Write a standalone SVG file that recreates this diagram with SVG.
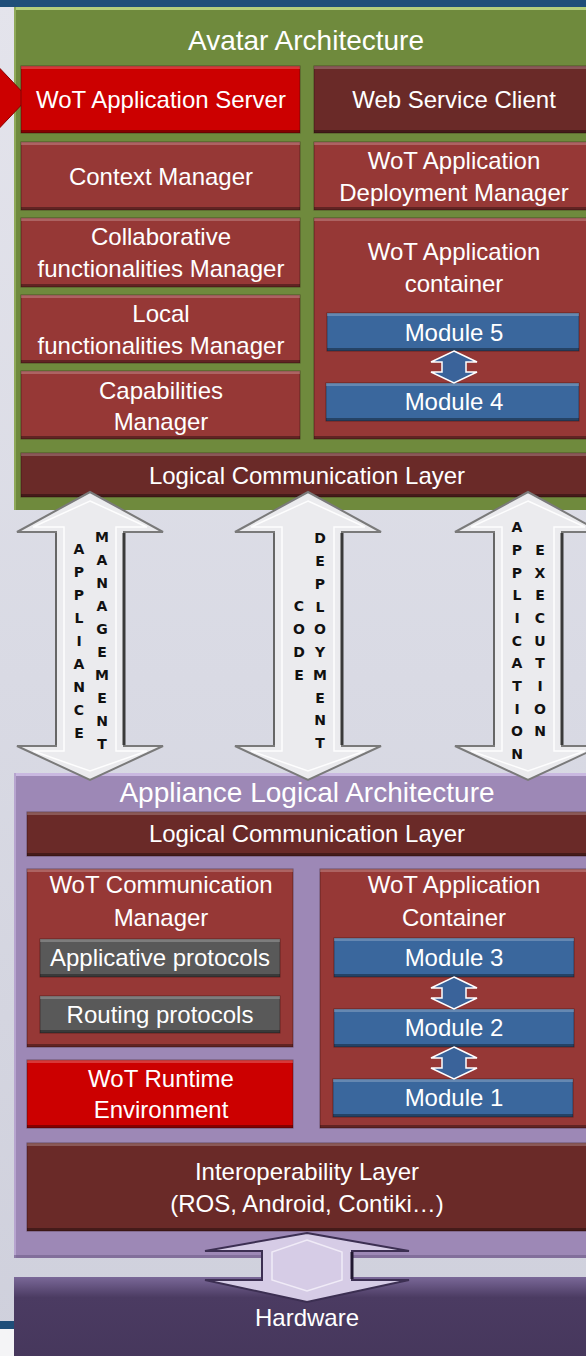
<svg xmlns="http://www.w3.org/2000/svg" xmlns:xlink="http://www.w3.org/1999/xlink" width="586" height="1356" viewBox="0 0 586 1356">
<defs>
<linearGradient id="bg" x1="0" y1="0" x2="0" y2="1">
<stop offset="0" stop-color="#e4e4ec"/><stop offset="0.5" stop-color="#d9dae4"/><stop offset="1" stop-color="#cfd0dc"/>
</linearGradient>
<linearGradient id="hw" x1="0" y1="0" x2="0" y2="1">
<stop offset="0" stop-color="#7a6898"/><stop offset="0.25" stop-color="#4b3b62"/><stop offset="1" stop-color="#46375c"/>
</linearGradient>
<polygon id="bigArrow" points="0,492 73,532 34,532 34,746 73,746 0,780 -73,746 -34,746 -34,532 -73,532"/>
<polygon id="bigArrowIn" points="0,501 57,527 26,527 26,751 57,751 0,771 -57,751 -26,751 -26,527 -57,527"/>
<polygon id="modArrow" points="0,0 23,11 12,11 12,21 23,21 0,32 -23,21 -12,21 -12,11 -23,11"/>
</defs>
<style>
.t{font-family:"Liberation Sans",Arial,sans-serif;font-size:24px;fill:#fff;text-anchor:middle}
.tt{font-size:28px}
.v{font-family:"DejaVu Sans","Liberation Sans",sans-serif;font-weight:bold;font-size:14px;fill:#111;text-anchor:middle}
.red{fill:#cc0000}
.mr{fill:#963836}
.dm{fill:#6a2a28}
.blu{fill:#3a679d}
.gry{fill:#595959}
.box{stroke:#2a0a0a;stroke-opacity:.45;stroke-width:1}
.hl{fill:#fff;opacity:.22}
.sh{fill:#000;opacity:.35}
.ba{fill:#ebebee;stroke:#7a7a7a;stroke-width:2}
.bai{fill:none;stroke:#fff;stroke-width:1.5;opacity:.9}
.se{stroke:#3a3a3a;stroke-width:3}
.ma{fill:#3a639a;stroke:#fff;stroke-width:1.5}
</style>
<rect x="0" y="0" width="586" height="1356" fill="url(#bg)"/>
<rect x="0" y="0" width="586" height="7" fill="#1f4e79"/>
<rect x="0" y="1321" width="14" height="8" fill="#1f4e79"/>
<rect x="0" y="1329" width="14" height="27" fill="#f4f4f6"/>

<g id="avatar-architecture">
<rect x="14" y="7" width="590" height="503" fill="#6f8a3d"/>
<rect x="14" y="7" width="590" height="3" fill="#b3cd7c"/>
<rect x="14" y="7" width="2" height="503" fill="#8fa95a"/>
<text class="t tt" x="306" y="50">Avatar Architecture</text>
</g>

<g id="source-arrow">
<polygon points="-10,58 28,98 -10,138" fill="#cc0000" stroke="#8a0000" stroke-width="1"/>
</g>

<g id="wot-application-server">
<rect class="red box" x="21" y="66" width="279" height="67"/>
<rect class="hl" x="21" y="66" width="279" height="3"/><rect class="sh" x="21" y="130" width="279" height="3"/>
<text class="t" x="161" y="108">WoT Application Server</text>
</g>
<g id="web-service-client">
<rect class="dm box" x="314" y="66" width="280" height="67"/>
<rect class="hl" x="314" y="66" width="280" height="3"/><rect class="sh" x="314" y="130" width="280" height="3"/>
<text class="t" x="454" y="108">Web Service Client</text>
</g>
<g id="context-manager">
<rect class="mr box" x="21" y="142" width="279" height="68"/>
<rect class="hl" x="21" y="142" width="279" height="3"/><rect class="sh" x="21" y="207" width="279" height="3"/>
<text class="t" x="161" y="185">Context Manager</text>
</g>
<g id="deployment-manager">
<rect class="mr box" x="314" y="142" width="280" height="68"/>
<rect class="hl" x="314" y="142" width="280" height="3"/><rect class="sh" x="314" y="207" width="280" height="3"/>
<text class="t" x="454" y="169">WoT Application</text>
<text class="t" x="454" y="201">Deployment Manager</text>
</g>
<g id="collaborative-manager">
<rect class="mr box" x="21" y="218" width="279" height="69"/>
<rect class="hl" x="21" y="218" width="279" height="3"/><rect class="sh" x="21" y="284" width="279" height="3"/>
<text class="t" x="161" y="245">Collaborative</text>
<text class="t" x="161" y="277">functionalities Manager</text>
</g>
<g id="local-manager">
<rect class="mr box" x="21" y="295" width="279" height="68"/>
<rect class="hl" x="21" y="295" width="279" height="3"/><rect class="sh" x="21" y="360" width="279" height="3"/>
<text class="t" x="161" y="322">Local</text>
<text class="t" x="161" y="354">functionalities Manager</text>
</g>
<g id="capabilities-manager">
<rect class="mr box" x="21" y="371" width="279" height="68"/>
<rect class="hl" x="21" y="371" width="279" height="3"/><rect class="sh" x="21" y="436" width="279" height="3"/>
<text class="t" x="161" y="399">Capabilities</text>
<text class="t" x="161" y="430">Manager</text>
</g>
<g id="wot-application-container-avatar">
<rect class="mr box" x="314" y="218" width="280" height="221"/>
<rect class="hl" x="314" y="218" width="280" height="3"/><rect class="sh" x="314" y="436" width="280" height="3"/>
<text class="t" x="454" y="260">WoT Application</text>
<text class="t" x="454" y="292">container</text>
</g>
<g id="module-5">
<rect class="blu box" x="327" y="313" width="252" height="38"/>
<rect class="hl" x="327" y="313" width="252" height="3"/><rect class="sh" x="327" y="348" width="252" height="3"/>
<text class="t" x="454" y="341">Module 5</text>
</g>
<g id="module-4">
<rect class="blu box" x="326" y="383" width="253" height="38"/>
<rect class="hl" x="326" y="383" width="253" height="3"/><rect class="sh" x="326" y="418" width="253" height="3"/>
<text class="t" x="454" y="410">Module 4</text>
</g>
<g id="logical-communication-layer-avatar">
<rect class="dm box" x="21" y="453" width="573" height="44"/>
<rect class="hl" x="21" y="453" width="573" height="3"/><rect class="sh" x="21" y="494" width="573" height="3"/>
<text class="t" x="307" y="484">Logical Communication Layer</text>
</g>

<g id="appliance-logical-architecture">
<rect x="14" y="773" width="590" height="485" fill="#9d88b6"/>
<rect x="14" y="773" width="590" height="3" fill="#c9b8e0"/>
<rect x="14" y="773" width="2" height="485" fill="#b7a5cf"/>
<rect x="14" y="1255" width="590" height="3" fill="#6f5f88" opacity=".6"/>
<text class="t tt" x="307" y="802">Appliance Logical Architecture</text>
</g>
<g id="logical-communication-layer-appliance">
<rect class="dm box" x="27" y="812" width="567" height="44"/>
<rect class="hl" x="27" y="812" width="567" height="3"/><rect class="sh" x="27" y="853" width="567" height="3"/>
<text class="t" x="307" y="842">Logical Communication Layer</text>
</g>
<g id="wot-communication-manager">
<rect class="mr box" x="27" y="869" width="266" height="178"/>
<rect class="hl" x="27" y="869" width="266" height="3"/><rect class="sh" x="27" y="1044" width="266" height="3"/>
<text class="t" x="161" y="893">WoT Communication</text>
<text class="t" x="161" y="926">Manager</text>
</g>
<g id="applicative-protocols">
<rect class="gry box" x="40" y="939" width="240" height="38"/>
<rect class="hl" x="40" y="939" width="240" height="3"/><rect class="sh" x="40" y="974" width="240" height="3"/>
<text class="t" x="160" y="966">Applicative protocols</text>
</g>
<g id="routing-protocols">
<rect class="gry box" x="40" y="996" width="240" height="37"/>
<rect class="hl" x="40" y="996" width="240" height="3"/><rect class="sh" x="40" y="1030" width="240" height="3"/>
<text class="t" x="160" y="1023">Routing protocols</text>
</g>
<g id="wot-runtime-environment">
<rect class="red box" x="27" y="1060" width="266" height="68"/>
<rect class="hl" x="27" y="1060" width="266" height="3"/><rect class="sh" x="27" y="1125" width="266" height="3"/>
<text class="t" x="161" y="1087">WoT Runtime</text>
<text class="t" x="161" y="1118">Environment</text>
</g>
<g id="wot-application-container-appliance">
<rect class="mr box" x="320" y="869" width="274" height="259"/>
<rect class="hl" x="320" y="869" width="274" height="3"/><rect class="sh" x="320" y="1125" width="274" height="3"/>
<text class="t" x="454" y="893">WoT Application</text>
<text class="t" x="454" y="926">Container</text>
</g>
<g id="module-3">
<rect class="blu box" x="334" y="938" width="240" height="39"/>
<rect class="hl" x="334" y="938" width="240" height="3"/><rect class="sh" x="334" y="974" width="240" height="3"/>
<text class="t" x="454" y="966">Module 3</text>
</g>
<g id="module-2">
<rect class="blu box" x="334" y="1009" width="240" height="38"/>
<rect class="hl" x="334" y="1009" width="240" height="3"/><rect class="sh" x="334" y="1044" width="240" height="3"/>
<text class="t" x="454" y="1036">Module 2</text>
</g>
<g id="module-1">
<rect class="blu box" x="333" y="1079" width="240" height="38"/>
<rect class="hl" x="333" y="1079" width="240" height="3"/><rect class="sh" x="333" y="1114" width="240" height="3"/>
<text class="t" x="454" y="1106">Module 1</text>
</g>
<g id="interoperability-layer">
<rect class="dm box" x="27" y="1143" width="567" height="88"/>
<rect class="hl" x="27" y="1143" width="567" height="3"/><rect class="sh" x="27" y="1228" width="567" height="3"/>
<text class="t" x="307" y="1180">Interoperability Layer</text>
<text class="t" x="307" y="1212">(ROS, Android, Contiki…)</text>
</g>
<g id="hardware">
<rect x="14" y="1277" width="590" height="82" fill="url(#hw)"/>
<text class="t" x="307" y="1326">Hardware</text>
</g>

<g id="connectors">
<g id="arrow-appliance-management">
<use xlink:href="#bigArrow" href="#bigArrow" x="90" class="ba"/>
<use xlink:href="#bigArrowIn" href="#bigArrowIn" x="90" class="bai"/>
<line class="se" x1="124" y1="533" x2="124" y2="745"/>
<line x1="56" y1="533" x2="56" y2="745" stroke="#666" stroke-width="2"/>
<text class="v"><tspan x="79" y="554">A</tspan><tspan x="79" y="577">P</tspan><tspan x="79" y="600">P</tspan><tspan x="79" y="623">L</tspan><tspan x="79" y="646">I</tspan><tspan x="79" y="669">A</tspan><tspan x="79" y="692">N</tspan><tspan x="79" y="715">C</tspan><tspan x="79" y="738">E</tspan></text>
<text class="v"><tspan x="102" y="542">M</tspan><tspan x="102" y="565">A</tspan><tspan x="102" y="588">N</tspan><tspan x="102" y="611">A</tspan><tspan x="102" y="634">G</tspan><tspan x="102" y="657">E</tspan><tspan x="102" y="680">M</tspan><tspan x="102" y="703">E</tspan><tspan x="102" y="726">N</tspan><tspan x="102" y="749">T</tspan></text>
</g>
<g id="arrow-code-deployment">
<use xlink:href="#bigArrow" href="#bigArrow" x="308" class="ba"/>
<use xlink:href="#bigArrowIn" href="#bigArrowIn" x="308" class="bai"/>
<line class="se" x1="342" y1="533" x2="342" y2="745"/>
<line x1="274" y1="533" x2="274" y2="745" stroke="#666" stroke-width="2"/>
<text class="v"><tspan x="299" y="611">C</tspan><tspan x="299" y="634">O</tspan><tspan x="299" y="657">D</tspan><tspan x="299" y="680">E</tspan></text>
<text class="v"><tspan x="320" y="543">D</tspan><tspan x="320" y="566">E</tspan><tspan x="320" y="589">P</tspan><tspan x="320" y="612">L</tspan><tspan x="320" y="634">O</tspan><tspan x="320" y="657">Y</tspan><tspan x="320" y="680">M</tspan><tspan x="320" y="703">E</tspan><tspan x="320" y="725">N</tspan><tspan x="320" y="748">T</tspan></text>
</g>
<g id="arrow-application-execution">
<use xlink:href="#bigArrow" href="#bigArrow" x="528" class="ba"/>
<use xlink:href="#bigArrowIn" href="#bigArrowIn" x="528" class="bai"/>
<line class="se" x1="562" y1="533" x2="562" y2="745"/>
<line x1="494" y1="533" x2="494" y2="745" stroke="#666" stroke-width="2"/>
<text class="v"><tspan x="517" y="532">A</tspan><tspan x="517" y="555">P</tspan><tspan x="517" y="578">P</tspan><tspan x="517" y="600">L</tspan><tspan x="517" y="623">I</tspan><tspan x="517" y="646">C</tspan><tspan x="517" y="668">A</tspan><tspan x="517" y="691">T</tspan><tspan x="517" y="714">I</tspan><tspan x="517" y="736">O</tspan><tspan x="517" y="759">N</tspan></text>
<text class="v"><tspan x="540" y="555">E</tspan><tspan x="540" y="578">X</tspan><tspan x="540" y="600">E</tspan><tspan x="540" y="623">C</tspan><tspan x="540" y="646">U</tspan><tspan x="540" y="668">T</tspan><tspan x="540" y="691">I</tspan><tspan x="540" y="714">O</tspan><tspan x="540" y="736">N</tspan></text>
</g>
<g id="arrow-module5-module4">
<use xlink:href="#modArrow" href="#modArrow" x="454" y="351" class="ma"/>
</g>
<g id="arrow-module3-module2">
<use xlink:href="#modArrow" href="#modArrow" x="454" y="977" class="ma"/>
</g>
<g id="arrow-module2-module1">
<use xlink:href="#modArrow" href="#modArrow" x="454" y="1047" class="ma"/>
</g>
<g id="arrow-interop-hardware">
<polygon points="307,1233 409,1251 352,1251 352,1280 409,1280 307,1302 205,1280 262,1280 262,1251 205,1251" fill="#d6cce6" stroke="#3c2f52" stroke-width="2"/>
<polygon points="307,1240 342,1252 342,1280 307,1291 272,1280 272,1252" fill="none" stroke="#f0ebf7" stroke-width="1.5"/>
<line x1="352" y1="1252" x2="352" y2="1279" stroke="#201830" stroke-width="3"/>
</g>
</g>
</svg>
